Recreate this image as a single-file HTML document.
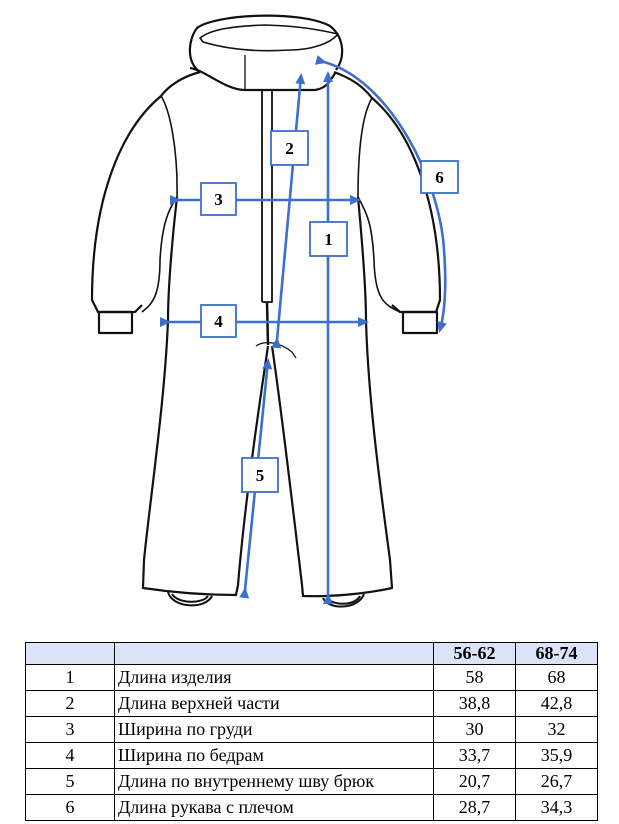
<!DOCTYPE html>
<html><head><meta charset="utf-8"><style>
body{margin:0;background:#fff;width:619px;height:824px;overflow:hidden;position:relative;font-family:"Liberation Serif",serif}
svg{position:absolute;left:0;top:0}
table{position:absolute;left:25px;top:642px;border-collapse:collapse;font-size:18px;color:#000}
td{border:1px solid #000;height:25px;padding:0 3px;line-height:25px}
tr.h td{background:#dbe3f7;height:21px;line-height:21px;font-weight:bold;text-align:center}
td.n{width:82px;text-align:center}
td.t{width:312px}
td.v{width:75px;text-align:center}
</style></head><body>
<svg width="619" height="640" viewBox="0 0 619 640">
<defs><marker id="a" markerWidth="11" markerHeight="10" refX="8" refY="5" orient="auto" markerUnits="userSpaceOnUse"><path d="M0,0 L11,5 L0,10 z" fill="#3d6fcc"/></marker></defs>
<g fill="none" stroke="#111" stroke-width="2.2" stroke-linejoin="round">
<path d="M200,72 C186,62 188,40 197,28 C215,14 300,10 330,26 C345,38 345,58 336,70"/>
<path d="M200,38 C210,30 230,26 265,25 C300,26 320,30 338,34 C330,44 310,50 290,50 C260,52 230,50 203,42 Z" stroke-width="1.6"/>
<path d="M190,68 C205,70 225,90 245,90 L315,90 C328,88 330,80 336,72" />
<path d="M245,55 L245,90" stroke-width="1.3"/>
<path d="M200,72 C185,76 170,84 161,96 C120,130 92,200 92,300 L98,312 L135,312 L142,305"/>
<path d="M161,96 C170,110 178,150 177,197 C168,210 162,225 160,260 C160,300 150,305 142,312" stroke-width="1.6"/>
<rect x="99" y="312" width="33" height="21"/>
<path d="M334,72 C350,78 362,85 372,98 C410,130 440,200 440,300 L436,312 L400,312 L392,305"/>
<path d="M372,98 C362,115 358,150 358,197 C368,215 372,225 374,260 C375,300 385,305 400,312" stroke-width="1.6"/>
<rect x="403" y="312" width="34" height="21"/>
<path d="M177,197 C172,240 168,290 168,320 C165,400 150,500 144,560 L143,588 C170,592 205,595 236,595 L238,585 C245,500 260,400 268,346"/>
<path d="M358,197 C362,240 366,290 366,320 C368,400 382,500 390,560 L392,588 C365,594 330,597 303,596 L302,585 C292,500 280,400 272,346"/>
<path d="M256,346 C264,340 280,342 292,352 L296,358" stroke-width="1.2"/>
<path d="M262,302 L262,90 M272,90 L272,302 L262,302" stroke-width="1.8"/>
<path d="M267,302 L268,345" stroke-width="2.5"/>
<path d="M168,592 C172,608 205,610 212,596 M172,594 C178,604 203,604 208,596" stroke-width="2"/>
<path d="M323,598 C328,610 358,610 364,594 M327,598 C333,606 355,606 360,596" stroke-width="2"/>
</g>
<g stroke="#3d6fcc" stroke-width="2.6" fill="none">
<line x1="328" y1="596" x2="328" y2="74" marker-start="url(#a)" marker-end="url(#a)"/>
<line x1="277" y1="340" x2="301" y2="76" marker-start="url(#a)" marker-end="url(#a)"/>
<line x1="178" y1="200" x2="358" y2="200" marker-start="url(#a)" marker-end="url(#a)"/>
<line x1="168" y1="322" x2="366" y2="322" marker-start="url(#a)" marker-end="url(#a)"/>
<line x1="245" y1="590" x2="268" y2="361" marker-start="url(#a)" marker-end="url(#a)"/>
<path d="M324,62 C390,80 440,180 444,250 C447,290 444,315 440,330" marker-start="url(#a)" marker-end="url(#a)"/>
</g>
<g fill="#fff" stroke="#3d6fcc" stroke-width="1.8">
<rect x="310" y="222" width="37" height="34"/>
<rect x="271" y="131" width="37" height="34"/>
<rect x="201" y="183" width="35" height="32"/>
<rect x="201" y="305" width="35" height="32"/>
<rect x="242" y="458" width="36" height="34"/>
<rect x="421" y="161" width="37" height="32"/>
</g>
<g font-family="Liberation Serif,serif" font-weight="bold" font-size="17" text-anchor="middle" fill="#000">
<text x="328.5" y="245">1</text><text x="289.5" y="154">2</text><text x="218.5" y="205">3</text>
<text x="218.5" y="327">4</text><text x="260" y="481">5</text><text x="439.5" y="183">6</text>
</g>
</svg>
<table>
<tr class="h"><td class="n"></td><td class="t"></td><td class="v">56-62</td><td class="v">68-74</td></tr>
<tr><td class="n">1</td><td class="t">Длина изделия</td><td class="v">58</td><td class="v">68</td></tr>
<tr><td class="n">2</td><td class="t">Длина верхней части</td><td class="v">38,8</td><td class="v">42,8</td></tr>
<tr><td class="n">3</td><td class="t">Ширина по груди</td><td class="v">30</td><td class="v">32</td></tr>
<tr><td class="n">4</td><td class="t">Ширина по бедрам</td><td class="v">33,7</td><td class="v">35,9</td></tr>
<tr><td class="n">5</td><td class="t">Длина по внутреннему шву брюк</td><td class="v">20,7</td><td class="v">26,7</td></tr>
<tr><td class="n">6</td><td class="t">Длина рукава с плечом</td><td class="v">28,7</td><td class="v">34,3</td></tr>
</table>
</body></html>
